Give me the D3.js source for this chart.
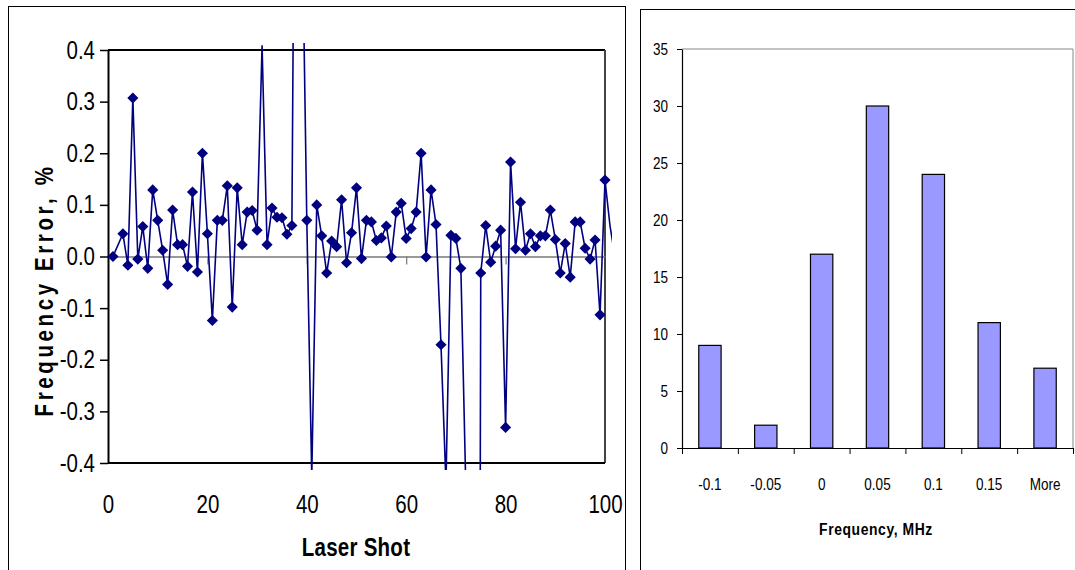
<!DOCTYPE html>
<html>
<head>
<meta charset="utf-8">
<script src="https://cdn.jsdelivr.net/npm/d3@7"></script>
<style>
    body { margin: 0; background: #fff; }
    text { font-family: "Liberation Sans", Arial, sans-serif; fill: #000; }
    .title { font-weight: bold; }
</style>
</head>
<body>
<div id="chart"></div>
<script>
// canvas and plot boxes
const svgWidth = 1075,
    svgHeight = 570,
    lineBox = { left: 108, right: 605, top: 50, bottom: 463 },
    barBox = { left: 682, right: 1073, top: 49, bottom: 448 },
    narrow = 0.82;   // no narrow font installed, squeeze text instead

// left chart data: shot number and frequency error (%)
// shot 2 is missing in the source, 38/39/73/74 run off the plot
const shots = [1, 3, 4, 5, 6, 7, 8, 9, 10, 11, 12, 13, 14, 15, 16, 17, 18, 19, 20,
    21, 22, 23, 24, 25, 26, 27, 28, 29, 30, 31, 32, 33, 34, 35, 36, 37, 38, 39, 40,
    41, 42, 43, 44, 45, 46, 47, 48, 49, 50, 51, 52, 53, 54, 55, 56, 57, 58, 59, 60,
    61, 62, 63, 64, 65, 66, 67, 68, 69, 70, 71, 72, 73, 74, 75, 76, 77, 78, 79, 80,
    81, 82, 83, 84, 85, 86, 87, 88, 89, 90, 91, 92, 93, 94, 95, 96, 97, 98, 99, 100,
    101, 102];
const errors = [0, 0.044, -0.017, 0.307, -0.005, 0.058, -0.023, 0.129, 0.070, 0.012,
    -0.054, 0.090, 0.023, 0.023, -0.019, 0.125, -0.030, 0.200, 0.044,
    -0.124, 0.070, 0.070, 0.137, -0.098, 0.133, 0.023, 0.086, 0.089, 0.051,
    0.408, 0.023, 0.094, 0.076, 0.075, 0.043, 0.060, 1.5, 0.7, 0.070,
    -0.425, 0.100, 0.040, -0.032, 0.030, 0.019, 0.110, -0.012, 0.046, 0.133,
    -0.004, 0.070, 0.067, 0.031, 0.036, 0.059, -0.001, 0.086, 0.103, 0.035,
    0.054, 0.086, 0.200, -0.001, 0.129, 0.062, -0.171, -0.44, 0.041, 0.035,
    -0.023, -0.45, -3, -4, -0.032, 0.060, -0.011, 0.020, 0.051, -0.331,
    0.183, 0.015, 0.105, 0.012, 0.044, 0.019, 0.040, 0.040, 0.090, 0.033,
    -0.032, 0.025, -0.040, 0.067, 0.067, 0.016, -0.005, 0.032, -0.113, 0.148,
    0.06, 0.0];
const errorTicks = [-0.4, -0.3, -0.2, -0.1, 0, 0.1, 0.2, 0.3, 0.4];
const shotTicks = [0, 20, 40, 60, 80, 100];

// right chart data: histogram bins and counts
const bins = ["-0.1", "-0.05", "0", "0.05", "0.1", "0.15", "More"];
const counts = [9, 2, 17, 30, 24, 11, 7];
const countTicks = [0, 5, 10, 15, 20, 25, 30, 35];

let svg = d3.select("#chart").append("svg")
    .attr("width", svgWidth)
    .attr("height", svgHeight);

svg.append("rect")
    .attr("width", svgWidth)
    .attr("height", svgHeight)
    .attr("fill", "#fff");

// panel frames
svg.append("rect")
    .attr("x", 8.5).attr("y", 6.5)
    .attr("width", 617).attr("height", 580)
    .attr("fill", "none").attr("stroke", "#000");
svg.append("rect")
    .attr("x", 640.5).attr("y", 9.5)
    .attr("width", 460).attr("height", 580)
    .attr("fill", "none").attr("stroke", "#000");

// ---------- line chart ----------
let xScale = d3.scaleLinear()
    .domain([0, 100])
    .range([lineBox.left, lineBox.right]);
let yScale = d3.scaleLinear()
    .domain([-0.4, 0.4])
    .range([lineBox.bottom, lineBox.top]);

let lineData = shots.map((s, i) => ({ shot: s, err: errors[i] }));

// plot border: top black, right dark grey, bottom black
svg.append("line")
    .attr("x1", lineBox.left).attr("x2", lineBox.right)
    .attr("y1", lineBox.top).attr("y2", lineBox.top)
    .attr("stroke", "#000").attr("stroke-width", 2);
svg.append("line")
    .attr("x1", lineBox.right).attr("x2", lineBox.right)
    .attr("y1", lineBox.top).attr("y2", lineBox.bottom)
    .attr("stroke", "#444").attr("stroke-width", 2);
svg.append("line")
    .attr("x1", lineBox.left).attr("x2", lineBox.right)
    .attr("y1", lineBox.bottom).attr("y2", lineBox.bottom)
    .attr("stroke", "#000").attr("stroke-width", 2);

// zero line with small ticks
let zeroAxis = svg.append("g")
    .attr("transform", `translate(0, ${yScale(0)})`)
    .call(d3.axisBottom(xScale).tickValues([20, 40, 60, 80]).tickSize(8).tickSizeOuter(0).tickFormat(""));
zeroAxis.select(".domain").attr("stroke", "#777").attr("stroke-width", 1.5);
zeroAxis.selectAll(".tick line").attr("stroke", "#777").attr("stroke-width", 1.2);

// y axis
let yAxis = svg.append("g")
    .attr("transform", `translate(${lineBox.left}, 0)`)
    .call(d3.axisLeft(yScale).tickValues(errorTicks).tickSize(8).tickSizeOuter(0)
        .tickPadding(5).tickFormat((d) => d.toFixed(1)));
yAxis.select(".domain").attr("stroke", "#000").attr("stroke-width", 2);
yAxis.selectAll(".tick line").attr("stroke", "#000").attr("stroke-width", 1.5);
yAxis.selectAll("text").attr("font-size", 25).call(squeeze);

// x tick labels under the plot
let xAxis = svg.append("g")
    .attr("transform", `translate(0, ${lineBox.bottom})`)
    .call(d3.axisBottom(xScale).tickValues(shotTicks).tickSize(0).tickPadding(32));
xAxis.select(".domain").remove();
xAxis.selectAll("text").attr("font-size", 25).call(squeeze);

// clip slightly outside the plot, like the original
svg.append("clipPath")
    .attr("id", "lineClip")
    .append("rect")
    .attr("x", lineBox.left - 7)
    .attr("y", lineBox.top - 7)
    .attr("width", lineBox.right - lineBox.left + 14)
    .attr("height", lineBox.bottom - lineBox.top + 14);

let line = d3.line()
    .x((d) => xScale(d.shot))
    .y((d) => yScale(d.err));

svg.append("path")
    .datum(lineData)
    .attr("clip-path", "url(#lineClip)")
    .attr("d", line)
    .attr("fill", "none")
    .attr("stroke", "#000080")
    .attr("stroke-width", 1.6)
    .attr("stroke-linejoin", "round");

// diamond markers only for points inside the plot
svg.selectAll(".marker")
    .data(lineData.filter((d) => d.err >= -0.4 && d.err <= 0.4 && d.shot <= 100))
    .join("path")
    .attr("class", "marker")
    .attr("d", d3.symbol(d3.symbolSquare, 62))
    .attr("transform", (d) => `translate(${xScale(d.shot)}, ${yScale(d.err)}) rotate(45)`)
    .attr("fill", "#000080");

// axis titles
svg.append("text")
    .attr("class", "title")
    .attr("transform", `translate(356, 556) scale(${narrow}, 1)`)
    .attr("text-anchor", "middle")
    .attr("font-size", 25)
    .attr("letter-spacing", 0.3)
    .text("Laser Shot");
svg.append("text")
    .attr("class", "title")
    .attr("transform", `translate(53, 290) rotate(-90) scale(${narrow}, 1)`)
    .attr("text-anchor", "middle")
    .attr("font-size", 25)
    .attr("letter-spacing", 4.4)
    .text("Frequency Error, %");

// ---------- histogram ----------
let xBand = d3.scaleBand()
    .domain(bins)
    .range([barBox.left, barBox.right])
    .paddingInner(0.6)
    .paddingOuter(0.3);
let xEdges = d3.scaleLinear()
    .domain([0, bins.length])
    .range([barBox.left, barBox.right]);
let yCount = d3.scaleLinear()
    .domain([0, 35])
    .range([barBox.bottom, barBox.top]);

// grey plot area border (top and right)
svg.append("polyline")
    .attr("points", `${barBox.left},${barBox.top} ${barBox.right},${barBox.top} ${barBox.right},${barBox.bottom}`)
    .attr("fill", "none")
    .attr("stroke", "#888")
    .attr("stroke-width", 1);

svg.selectAll(".bar")
    .data(bins)
    .join("rect")
    .attr("class", "bar")
    .attr("x", (d) => xBand(d))
    .attr("y", (d, i) => yCount(counts[i]))
    .attr("width", xBand.bandwidth())
    .attr("height", (d, i) => barBox.bottom - yCount(counts[i]))
    .attr("fill", "#9999ff")
    .attr("stroke", "#000")
    .attr("stroke-width", 1.2);

let countAxis = svg.append("g")
    .attr("transform", `translate(${barBox.left}, 0)`)
    .call(d3.axisLeft(yCount).tickValues(countTicks).tickSize(5).tickSizeOuter(0).tickPadding(9));
countAxis.select(".domain").attr("stroke", "#000").attr("stroke-width", 1.2);
countAxis.selectAll("text").attr("font-size", 16.5).call(squeeze);

let edgeAxis = svg.append("g")
    .attr("transform", `translate(0, ${barBox.bottom})`)
    .call(d3.axisBottom(xEdges).tickValues(d3.range(bins.length + 1)).tickSize(6).tickSizeOuter(0).tickFormat(""));
edgeAxis.select(".domain").attr("stroke", "#000").attr("stroke-width", 1.2);

let binAxis = svg.append("g")
    .attr("transform", `translate(0, ${barBox.bottom})`)
    .call(d3.axisBottom(xBand).tickSize(0).tickPadding(30));
binAxis.select(".domain").remove();
binAxis.selectAll("text").attr("font-size", 16.5).call(squeeze);

svg.append("text")
    .attr("class", "title")
    .attr("transform", `translate(876, 535) scale(${narrow}, 1)`)
    .attr("text-anchor", "middle")
    .attr("font-size", 17)
    .attr("letter-spacing", 0.7)
    .text("Frequency, MHz");

// helper: squeeze axis labels horizontally around their own anchor
function squeeze(sel) {
    sel.each(function () {
        let t = d3.select(this),
            x = +t.attr("x") || 0;
        t.attr("transform", `translate(${x}, 0) scale(${narrow}, 1) translate(${-x}, 0)`);
    });
}
</script>
</body>
</html>
